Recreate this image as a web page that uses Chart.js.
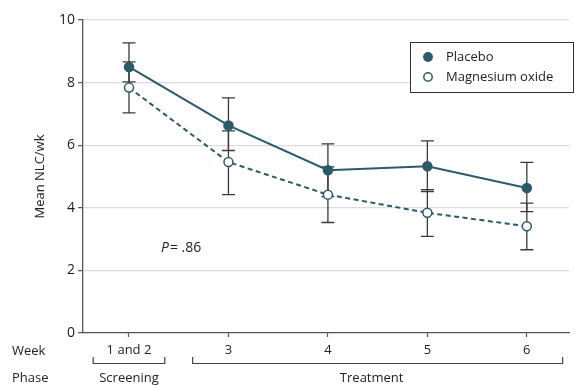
<!DOCTYPE html>
<html>
<head>
<meta charset="utf-8">
<script src="https://cdn.jsdelivr.net/npm/chart.js@4.4.1/dist/chart.umd.min.js"></script>
<style>
  html, body { margin: 0; padding: 0; background: #ffffff; }
  #wrap { width: 575px; height: 385px; }
</style>
</head>
<body>
<div id="wrap"><canvas id="c" width="575" height="385"></canvas></div>
<script>
// ---- data ----
const weeks = ['1 and 2', '3', '4', '5', '6'];
const placebo = [8.50, 6.63, 5.20, 5.33, 4.63];
const placeboLow = [8.02, 5.83, 4.36, 4.52, 3.88];
const placeboHigh = [9.27, 7.51, 6.04, 6.14, 5.45];
const magnesium = [7.84, 5.46, 4.42, 3.84, 3.41];
const magnesiumLow = [7.03, 4.42, 3.53, 3.09, 2.66];
const magnesiumHigh = [8.66, 6.46, 5.31, 4.58, 4.15];
const yTicks = [0, 2, 4, 6, 8, 10];
const phases = [
  { label: 'Screening', from: 1, to: 1 },
  { label: 'Treatment', from: 2, to: 5 }
];
const seriesNames = ['Placebo', 'Magnesium oxide'];
const pText = '.86';

const TEAL = '#2c5a6a';
const FONT = "'Open Sans', 'DejaVu Sans', sans-serif";

const toPts = arr => arr.map((v, i) => ({ x: i + 1, y: v }));

const errBars = [
  { low: placeboLow, high: placeboHigh },
  { low: magnesiumLow, high: magnesiumHigh }
];

const decor = {
  id: 'decor',
  beforeDatasetsDraw(chart) {
    const ctx = chart.ctx, xs = chart.scales.x, ys = chart.scales.y;
    ctx.save();
    ctx.strokeStyle = '#3a3a3a';
    ctx.lineWidth = 1.3;
    errBars.forEach(eb => {
      eb.low.forEach((lo, i) => {
        const px = xs.getPixelForValue(i + 1);
        const yl = ys.getPixelForValue(lo), yh = ys.getPixelForValue(eb.high[i]);
        ctx.beginPath();
        ctx.moveTo(px, yl); ctx.lineTo(px, yh);
        ctx.moveTo(px - 6.5, yl); ctx.lineTo(px + 6.5, yl);
        ctx.moveTo(px - 6.5, yh); ctx.lineTo(px + 6.5, yh);
        ctx.stroke();
      });
    });
    ctx.restore();
  },
  afterDraw(chart) {
    const ctx = chart.ctx, xs = chart.scales.x, ys = chart.scales.y;
    const area = chart.chartArea;
    ctx.save();
    // y axis title
    ctx.fillStyle = '#222';
    ctx.font = '13px ' + FONT;
    ctx.textAlign = 'center';
    ctx.textBaseline = 'middle';
    ctx.translate(40, (area.top + area.bottom) / 2);
    ctx.rotate(-Math.PI / 2);
    ctx.fillText('Mean NLC/wk', 0, 0);
    ctx.setTransform(1, 0, 0, 1, 0, 0);

    // row labels
    ctx.textAlign = 'left';
    ctx.fillText('Week', 12, 351);
    ctx.fillText('Phase', 12, 378);

    // phase brackets
    ctx.strokeStyle = '#444';
    ctx.lineWidth = 1.2;
    phases.forEach(ph => {
      const x0 = xs.getPixelForValue(ph.from - 0.36);
      const x1 = xs.getPixelForValue(ph.to + 0.36);
      ctx.beginPath();
      ctx.moveTo(x0, 357); ctx.lineTo(x0, 363.5); ctx.lineTo(x1, 363.5); ctx.lineTo(x1, 357);
      ctx.stroke();
      ctx.textAlign = 'center';
      const mid = ph.from === ph.to ? xs.getPixelForValue(ph.from) : xs.getPixelForValue((ph.from + ph.to) / 2) - 6;
      ctx.fillText(ph.label, mid, 378);
    });

    // P value
    ctx.textAlign = 'left';
    ctx.font = 'italic 14px ' + FONT;
    ctx.fillText('P', 161, 248);
    const pw = ctx.measureText('P').width;
    ctx.font = '14px ' + FONT;
    ctx.fillText('= ' + pText, 161 + pw + 1, 248);

    // legend box
    ctx.fillStyle = '#ffffff';
    ctx.fillRect(410, 42, 163, 50);
    ctx.strokeStyle = '#333';
    ctx.lineWidth = 1;
    ctx.strokeRect(410.5, 42.5, 163, 50);
    const items = chart.data.datasets;
    items.forEach((ds, i) => {
      const yy = 57 + i * 20;
      ctx.beginPath();
      ctx.arc(428, yy, 4.2, 0, Math.PI * 2);
      ctx.fillStyle = ds.pointBackgroundColor;
      ctx.fill();
      ctx.lineWidth = 1.5;
      ctx.strokeStyle = ds.pointBorderColor;
      ctx.stroke();
      ctx.fillStyle = '#222';
      ctx.font = '13px ' + FONT;
      ctx.textAlign = 'left';
      ctx.textBaseline = 'middle';
      ctx.fillText(ds.label, 446, yy);
    });
    ctx.restore();
  }
};

new Chart(document.getElementById('c'), {
  type: 'line',
  data: {
    datasets: [
      {
        label: seriesNames[0],
        data: toPts(placebo),
        borderColor: TEAL,
        borderWidth: 2,
        pointBackgroundColor: TEAL,
        pointBorderColor: TEAL,
        pointBorderWidth: 1.5,
        pointRadius: 4.5,
        fill: false,
        tension: 0
      },
      {
        label: seriesNames[1],
        data: toPts(magnesium),
        borderColor: TEAL,
        borderWidth: 2,
        borderDash: [5, 3.5],
        pointBackgroundColor: '#ffffff',
        pointBorderColor: TEAL,
        pointBorderWidth: 1.5,
        pointRadius: 4.5,
        fill: false,
        tension: 0
      }
    ]
  },
  options: {
    responsive: false,
    animation: false,
    devicePixelRatio: 1,
    layout: { padding: { top: 20, right: 0, bottom: 0, left: 0 } },
    plugins: { legend: { display: false }, title: { display: false }, tooltip: { enabled: false } },
    scales: {
      x: {
        type: 'linear',
        min: 0.5375,
        max: 5.424,
        afterBuildTicks: s => { s.ticks = weeks.map((w, i) => ({ value: i + 1 })); },
        afterFit: s => { s.height = 52; },
        ticks: {
          callback: v => weeks[v - 1],
          color: '#222',
          font: { family: FONT, size: 13 },
          padding: 5,
          maxRotation: 0,
          autoSkip: false
        },
        grid: { drawOnChartArea: false, drawTicks: true, tickLength: 4, tickColor: '#555', tickWidth: 1.2 },
        border: { color: '#555', width: 1.3 }
      },
      y: {
        min: 0,
        max: 10,
        afterBuildTicks: s => { s.ticks = yTicks.map(v => ({ value: v })); },
        afterFit: s => { s.width = 83; },
        ticks: {
          color: '#222',
          font: { family: FONT, size: 14 },
          padding: 3
        },
        grid: {
          color: c => (c.tick && c.tick.value === 0) ? 'rgba(0,0,0,0)' : '#dcdcdc',
          lineWidth: 1.3,
          tickLength: 5,
          tickColor: '#555',
          tickWidth: 1.2
        },
        border: { color: '#555', width: 1.3 }
      }
    }
  },
  plugins: [decor]
});
</script>
</body>
</html>
